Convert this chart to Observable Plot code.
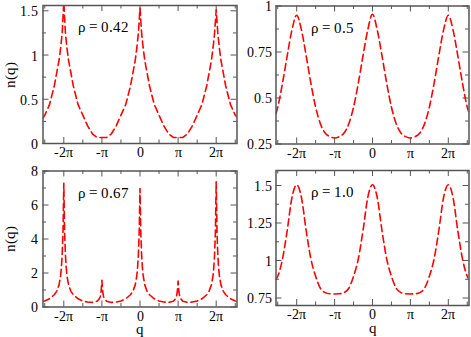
<!DOCTYPE html>
<html><head><meta charset="utf-8">
<script src="https://cdn.jsdelivr.net/npm/d3@7"></script>
<script src="https://cdn.jsdelivr.net/npm/@observablehq/plot@0.6"></script>
<style>
@font-face{font-family:"SerifLocal";src:local("Liberation Serif"),local("LiberationSerif"),local("LiberationSerif-Regular");}
html,body{margin:0;padding:0;background:#fff;}
#chart{position:relative;width:471px;height:337px;overflow:hidden;background:#fff;}
#chart > div{position:absolute;}
#chart svg{display:block;}
</style></head><body><div id="chart"></div>
<script>
// x values are q/π
const xDomain = [-2.546, 2.546];
const xMajor = [-2, -1, 0, 1, 2];
const xLabels = ["-2π", "-π", "0", "π", "2π"];
const xMinor = [-2.5, -1.5, -0.5, 0.5, 1.5, 2.5];

// rho = 0.42
const q1 = [
  -2.546, -2.5, -2.375, -2.25, -2.125, -2.083, -2.042, -2,
  -1.958, -1.917, -1.875, -1.75, -1.625, -1.5, -1.375, -1.25, -1.125, -1,
  -0.875, -0.75, -0.625, -0.5, -0.375, -0.25, -0.125, -0.083, -0.042, 0,
  0.042, 0.083, 0.125, 0.25, 0.375, 0.5, 0.625, 0.75, 0.875, 1,
  1.125, 1.25, 1.375, 1.5, 1.625, 1.75, 1.875, 1.917, 1.958, 2,
  2.042, 2.083, 2.125, 2.25, 2.375, 2.5, 2.546];
const n1 = [
  0.29, 0.32, 0.44, 0.65, 0.94, 1.08, 1.25, 1.60,
  1.25, 1.08, 0.94, 0.65, 0.44, 0.32, 0.20, 0.11, 0.068, 0.068,
  0.068, 0.11, 0.20, 0.32, 0.44, 0.65, 0.94, 1.08, 1.25, 1.53,
  1.25, 1.08, 0.94, 0.65, 0.44, 0.32, 0.20, 0.11, 0.068, 0.068,
  0.068, 0.11, 0.20, 0.32, 0.44, 0.65, 0.94, 1.08, 1.25, 1.51,
  1.25, 1.08, 0.94, 0.65, 0.44, 0.32, 0.30];

// rho = 0.5 and rho = 1.0 share this grid
const q24 = [
  -2.546, -2.5, -2.375, -2.25, -2.125, -2, -1.875, -1.75, -1.625, -1.5, -1.375,
  -1.25, -1.125, -1, -0.875, -0.75, -0.625, -0.5, -0.375, -0.25, -0.125, 0,
  0.125, 0.25, 0.375, 0.5, 0.625, 0.75, 0.875, 1, 1.125, 1.25, 1.375,
  1.5, 1.625, 1.75, 1.875, 2, 2.125, 2.25, 2.375, 2.5, 2.546];
const n2 = [
  0.415, 0.45, 0.58, 0.73, 0.87, 0.95, 0.87, 0.73, 0.58, 0.45, 0.36,
  0.31, 0.29, 0.283, 0.29, 0.31, 0.36, 0.45, 0.58, 0.73, 0.87, 0.955,
  0.87, 0.73, 0.58, 0.45, 0.36, 0.31, 0.29, 0.283, 0.29, 0.31, 0.36,
  0.45, 0.58, 0.73, 0.87, 0.95, 0.87, 0.73, 0.58, 0.45, 0.42];
const n4 = [
  0.875, 0.895, 1.01, 1.20, 1.42, 1.505, 1.42, 1.20, 1.01, 0.895, 0.815,
  0.786, 0.778, 0.777, 0.778, 0.786, 0.815, 0.895, 1.01, 1.20, 1.42, 1.505,
  1.42, 1.20, 1.01, 0.895, 0.815, 0.786, 0.778, 0.777, 0.778, 0.786, 0.815,
  0.895, 1.01, 1.20, 1.42, 1.505, 1.42, 1.20, 1.01, 0.895, 0.875];

// rho = 0.67
const q3 = [
  -2.546, -2.5, -2.375, -2.25, -2.1875, -2.125, -2.083, -2.0625, -2.042, -2.021, -2,
  -1.979, -1.958, -1.9375, -1.917, -1.875, -1.8125, -1.75, -1.625, -1.5, -1.375, -1.25, -1.125, -1.0625, -1.042, -1.021, -1,
  -0.979, -0.958, -0.9375, -0.875, -0.75, -0.625, -0.5, -0.375, -0.25, -0.1875, -0.125, -0.083, -0.0625, -0.042, -0.021, 0,
  0.021, 0.042, 0.0625, 0.083, 0.125, 0.1875, 0.25, 0.375, 0.5, 0.625, 0.75, 0.875, 0.9375, 0.958, 0.979, 1,
  1.021, 1.042, 1.0625, 1.125, 1.25, 1.375, 1.5, 1.625, 1.75, 1.8125, 1.875, 1.917, 1.9375, 1.958, 1.979, 2,
  2.021, 2.042, 2.0625, 2.083, 2.125, 2.1875, 2.25, 2.375, 2.5, 2.546];
const n3 = [
  0.34, 0.35, 0.48, 0.72, 0.92, 1.3, 1.85, 2.35, 3.1, 4.4, 7.27,
  4.4, 3.1, 2.35, 1.85, 1.3, 0.92, 0.72, 0.48, 0.35, 0.29, 0.27, 0.34, 0.5, 0.62, 0.9, 1.57,
  0.9, 0.62, 0.5, 0.34, 0.27, 0.29, 0.35, 0.48, 0.72, 0.92, 1.3, 1.85, 2.35, 3.1, 4.4, 6.97,
  4.4, 3.1, 2.35, 1.85, 1.3, 0.92, 0.72, 0.48, 0.35, 0.29, 0.27, 0.34, 0.5, 0.62, 0.9, 1.52,
  0.9, 0.62, 0.5, 0.34, 0.27, 0.29, 0.35, 0.48, 0.72, 0.92, 1.3, 1.85, 2.35, 3.1, 4.4, 7.37,
  4.4, 3.1, 2.35, 1.85, 1.3, 0.92, 0.72, 0.48, 0.35, 0.34];

const rhoLabels = ["ρ = 0.42", "ρ = 0.5", "ρ = 0.67", "ρ = 1.0"];

const panels = [
  {q: q1, n: n1, yDomain: [0, 1.56], yMajor: [0, 0.5, 1, 1.5], yMinor: [0.25, 0.75, 1.25], label: rhoLabels[0], curve: "linear",
   left: 0, top: 0, width: 240, height: 165, margin: [5, 3.5, 22, 42.5], yTitle: true, xTitle: false, ypad: 5},
  {q: q24, n: n2, yDomain: [0.25, 1], yMajor: [0.25, 0.5, 0.75, 1], yMinor: [0.375, 0.625, 0.875], label: rhoLabels[1], curve: "monotone-x",
   left: 240, top: 0, width: 231, height: 165, margin: [5.5, 2.5, 21.5, 35.5], yTitle: false, xTitle: false, ypad: 4},
  {q: q3, n: n3, yDomain: [0, 8], yMajor: [0, 2, 4, 6, 8], yMinor: [1, 3, 5, 7], label: rhoLabels[2], curve: "linear",
   left: 0, top: 155, width: 240, height: 182, margin: [15.5, 3.5, 30.5, 42.5], yTitle: true, xTitle: true, ypad: 5},
  {q: q24, n: n4, yDomain: [0.7, 1.6], yMajor: [0.75, 1, 1.25, 1.5], yMinor: [0.875, 1.125, 1.375], label: rhoLabels[3], curve: "monotone-x",
   left: 240, top: 155, width: 231, height: 182, margin: [15, 2.5, 32, 35.5], yTitle: false, xTitle: true, ypad: 4}
];

const frameColor = "#555";
const fontName = "SerifLocal, 'Liberation Serif', 'Times New Roman', serif";
const container = document.getElementById("chart");

for (const p of panels) {
  const [mt, mr, mb, ml] = p.margin;
  const iw = p.width - ml - mr, ih = p.height - mt - mb;
  const data = p.q.map((q, i) => ({q, n: p.n[i]}));
  const tk = {stroke: frameColor, strokeWidth: 1};
  const major = 6, minor = 3.5;
  const marks = [
    Plot.axisX(xMajor, {tickSize: 0, tickPadding: 4, tickFormat: d => xLabels[xMajor.indexOf(d)], label: null, fontSize: 14, fontFamily: fontName}),
    Plot.axisY(p.yMajor, {tickSize: 0, tickPadding: p.ypad, dy: 1, tickFormat: d => `${d}`, label: null, fontSize: 14, fontFamily: fontName}),
    Plot.tickX(xMajor, {x: d => d, insetTop: ih - major, ...tk}),
    Plot.tickX(xMajor, {x: d => d, insetBottom: ih - major, ...tk}),
    Plot.tickX(xMinor, {x: d => d, insetTop: ih - minor, ...tk}),
    Plot.tickX(xMinor, {x: d => d, insetBottom: ih - minor, ...tk}),
    Plot.tickY(p.yMajor, {y: d => d, insetRight: iw - major, ...tk}),
    Plot.tickY(p.yMajor, {y: d => d, insetLeft: iw - major, ...tk}),
    Plot.tickY(p.yMinor, {y: d => d, insetRight: iw - minor, ...tk}),
    Plot.tickY(p.yMinor, {y: d => d, insetLeft: iw - minor, ...tk}),
    Plot.line(data, {x: "q", y: "n", stroke: "#ff0000", strokeWidth: 1.6, strokeDasharray: "7,4", curve: p.curve, clip: true}),
    Plot.frame({stroke: frameColor, strokeWidth: 1.5}),
    Plot.text([p.label], {text: d => d, frameAnchor: "top-left", dx: 35, dy: 26.5, lineAnchor: "bottom", textAnchor: "start", fontSize: 14.5, fontFamily: fontName})
  ];
  if (p.yTitle) marks.push(Plot.text(["n(q)"], {text: d => d, frameAnchor: "left", dx: -33, rotate: -90, textAnchor: "middle", lineAnchor: "middle", fontSize: 14.5, fontFamily: fontName}));
  if (p.xTitle) marks.push(Plot.text(["q"], {text: d => d, frameAnchor: "bottom", dy: 27, lineAnchor: "bottom", textAnchor: "middle", fontSize: 15, fontFamily: fontName}));
  const svg = Plot.plot({
    width: p.width, height: p.height,
    marginTop: mt, marginRight: mr, marginBottom: mb, marginLeft: ml,
    x: {domain: xDomain},
    y: {domain: p.yDomain},
    marks
  });
  const wrap = document.createElement("div");
  wrap.style.left = p.left + "px";
  wrap.style.top = p.top + "px";
  wrap.appendChild(svg);
  container.appendChild(wrap);
}
</script></body></html>
